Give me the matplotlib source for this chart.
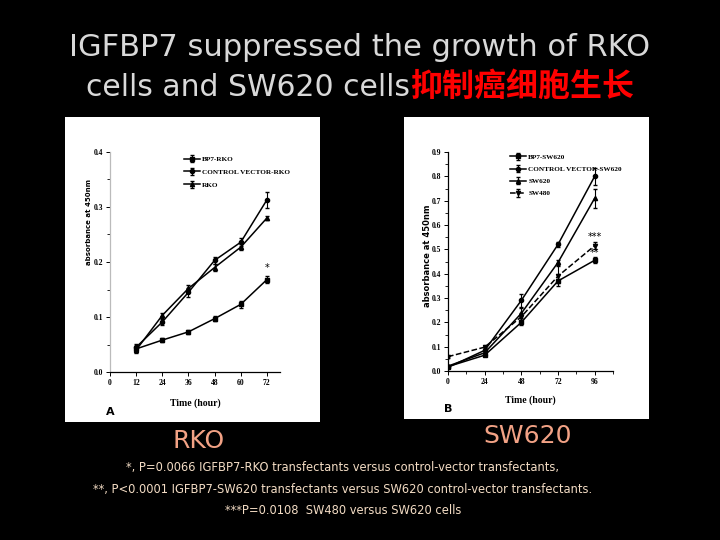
import matplotlib
matplotlib.use('Agg')
import matplotlib.pyplot as plt
from matplotlib.ticker import MultipleLocator

plt.rcParams['font.family'] = ['DejaVu Sans', 'Noto Sans CJK SC']

# panel A : RKO
hours_a = [12, 24, 36, 48, 60, 72]
bp7_rko = [0.042, 0.058, 0.073, 0.097, 0.123, 0.168]
ctrl_rko = [0.045, 0.091, 0.145, 0.203, 0.236, 0.313]
rko = [0.040, 0.103, 0.152, 0.190, 0.227, 0.280]
err_bp7_rko = [0.005, 0.003, 0.003, 0.005, 0.007, 0.007]
err_ctrl_rko = [0.006, 0.006, 0.008, 0.007, 0.007, 0.015]
err_rko = [0.006, 0.005, 0.006, 0.007, 0.005, 0.004]

# panel B : SW620
hours_b = [0, 24, 48, 72, 96]
bp7_sw = [0.018, 0.065, 0.200, 0.370, 0.455]
ctrl_sw = [0.015, 0.085, 0.290, 0.520, 0.800]
sw620 = [0.020, 0.075, 0.237, 0.446, 0.710]
sw480 = [0.059, 0.098, 0.223, 0.390, 0.515]
err_bp7_sw = [0.004, 0.005, 0.010, 0.010, 0.012]
err_ctrl_sw = [0.004, 0.008, 0.025, 0.010, 0.035]
err_sw620 = [0.004, 0.006, 0.020, 0.012, 0.040]
err_sw480 = [0.004, 0.006, 0.015, 0.040, 0.015]

W, H = 720, 540
fig = plt.figure(figsize=(7.2, 5.4), dpi=100, facecolor='black')


def box(x0, y0, x1, y1):
    # pixel box (top-left origin) -> figure fraction rect
    return [x0 / W, 1 - y1 / H, (x1 - x0) / W, (y1 - y0) / H]


# white panels behind the plots
for r in [(65, 117, 320, 422), (404, 117, 649, 419)]:
    bg = fig.add_axes(box(*r), zorder=-1)
    bg.set_facecolor('white')
    bg.set_xticks([])
    bg.set_yticks([])
    for s in bg.spines.values():
        s.set_visible(False)


def style(ax):
    ax.patch.set_alpha(0)
    for s in ['top', 'right']:
        ax.spines[s].set_visible(False)
    for s in ['left', 'bottom']:
        ax.spines[s].set_linewidth(0.9)
    ax.tick_params(direction='out', length=3, width=0.7, pad=2, labelsize=5.5)
    ax.tick_params(which='minor', direction='out', length=2, width=0.6)
    for lb in ax.get_xticklabels() + ax.get_yticklabels():
        lb.set_family('Liberation Serif')
        lb.set_fontweight('bold')


# ---- panel A
ax1 = fig.add_axes(box(110, 152, 280, 372))
kw = dict(color='black', lw=1.1, ms=3, capsize=1.5, elinewidth=0.8)
ax1.errorbar(hours_a, bp7_rko, yerr=err_bp7_rko, marker='s', label='BP7-RKO', **kw)
ax1.errorbar(hours_a, ctrl_rko, yerr=err_ctrl_rko, marker='o', label='CONTROL VECTOR-RKO', **kw)
ax1.errorbar(hours_a, rko, yerr=err_rko, marker='^', label='RKO', **kw)
ax1.set_xlim(0, 78)
ax1.set_ylim(0, 0.4)
ax1.set_xticks([0, 12, 24, 36, 48, 60, 72])
ax1.set_yticks([0.0, 0.1, 0.2, 0.3, 0.4])
ax1.set_yticklabels(['0.0', '0.1', '0.2', '0.3', '0.4'])
ax1.yaxis.set_minor_locator(MultipleLocator(0.05))
style(ax1)
ax1.spines['left'].set_color('#bbbbbb')
ax1.set_xlabel('Time (hour)', family='Liberation Serif', fontsize=7, fontweight='bold')
ax1.xaxis.set_label_coords(0.5, -0.12)
ax1.set_ylabel('absorbance at 450nm', fontsize=5, fontweight='bold')
ax1.yaxis.set_label_coords(-0.106, 0.68)
ax1.text(72, 0.189, '*', ha='center', va='center', fontsize=7)
ax1.text(0, -0.072, 'A', ha='center', va='center', fontsize=8, fontweight='bold')
ax1.legend(loc='upper left', bbox_to_anchor=(0.42, 0.995), frameon=False,
           prop=dict(family='Liberation Serif', size=5.2, weight='bold'), handlelength=2.2,
           labelspacing=0.95, borderaxespad=0, handletextpad=0.3)

# ---- panel B
ax2 = fig.add_axes(box(448, 152, 613, 371))
ax2.errorbar(hours_b, bp7_sw, yerr=err_bp7_sw, marker='s', label='BP7-SW620', **kw)
ax2.errorbar(hours_b, ctrl_sw, yerr=err_ctrl_sw, marker='o', label='CONTROL VECTOR-SW620', **kw)
ax2.errorbar(hours_b, sw620, yerr=err_sw620, marker='^', label='SW620', **kw)
ax2.errorbar(hours_b, sw480, yerr=err_sw480, marker='v', ls='--', label='SW480', **kw)
ax2.set_xlim(0, 108)
ax2.set_ylim(0, 0.9)
ax2.set_xticks([0, 24, 48, 72, 96])
ax2.set_yticks([0.0, 0.1, 0.2, 0.3, 0.4, 0.5, 0.6, 0.7, 0.8, 0.9])
ax2.xaxis.set_minor_locator(MultipleLocator(12))
ax2.yaxis.set_minor_locator(MultipleLocator(0.05))
style(ax2)
ax2.set_xlabel('Time (hour)', family='Liberation Serif', fontsize=7, fontweight='bold')
ax2.xaxis.set_label_coords(0.5, -0.11)
ax2.set_ylabel('absorbance at 450nm', fontsize=6, fontweight='bold')
ax2.yaxis.set_label_coords(-0.097, 0.525)
ax2.text(96, 0.55, '***', ha='center', va='center', fontsize=7)
ax2.text(96, 0.483, '**', ha='center', va='center', fontsize=7)
ax2.text(0, -0.155, 'B', ha='center', va='center', fontsize=8, fontweight='bold')
ax2.legend(loc='upper left', bbox_to_anchor=(0.36, 1.005), frameon=False,
           prop=dict(family='Liberation Serif', size=5.2, weight='bold'), handlelength=2.2,
           labelspacing=0.85, borderaxespad=0, handletextpad=0.3)

# ---- slide texts
grey = '#d9d9d9'
fig.text(0.5, 1 - 47 / H, 'IGFBP7 suppressed the growth of RKO', ha='center', va='center',
         color=grey, fontsize=22)
fig.text(410 / W, 1 - 87 / H, 'cells and SW620 cells', ha='right', va='center',
         color=grey, fontsize=21.5)
fig.text(410 / W, 1 - 87 / H, '抑制癌细胞生长', ha='left', va='center', color='#ff0000',
         fontsize=23, fontweight='bold', family=['Noto Sans CJK SC', 'DejaVu Sans'])

salmon = '#f2a285'
fig.text(199 / W, 1 - 441 / H, 'RKO', ha='center', va='center', color=salmon, fontsize=18)
fig.text(528 / W, 1 - 436 / H, 'SW620', ha='center', va='center', color=salmon, fontsize=18)

notes = ['*, P=0.0066 IGFBP7-RKO transfectants versus control-vector transfectants,',
         '**, P<0.0001 IGFBP7-SW620 transfectants versus SW620 control-vector transfectants.',
         '***P=0.0108  SW480 versus SW620 cells']
cream = '#f3dcc4'
for txt, yy in zip(notes, [467, 490, 510]):
    fig.text(343 / W, 1 - yy / H, txt, ha='center', va='center', color=cream, fontsize=8.3)

fig.savefig('out.png', dpi=100, facecolor='black')
